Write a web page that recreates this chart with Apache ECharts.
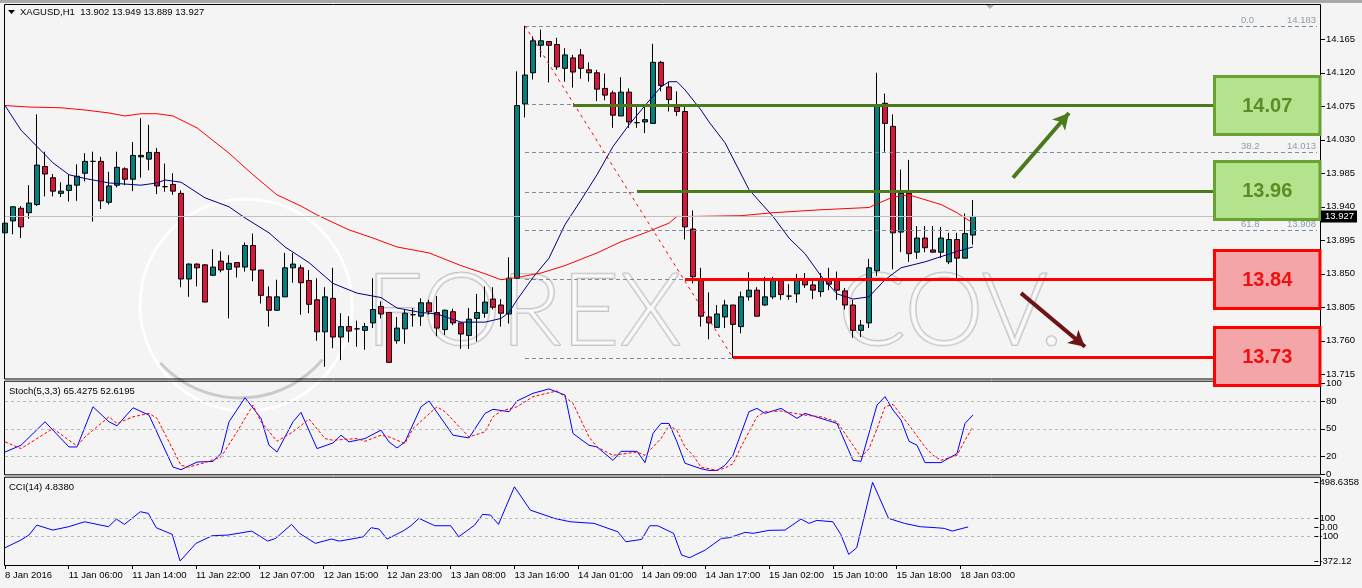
<!DOCTYPE html>
<html>
<head>
<meta charset="utf-8">
<script src="https://cdn.jsdelivr.net/npm/echarts@6/dist/echarts.min.js"></script>
<style>
html, body { margin: 0; padding: 0; background: #f4f4f4; }
#chart { width: 1362px; height: 588px; }
</style>
</head>
<body>
<div id="chart"></div>
<script>
// time axis: one label every 8 hourly bars, 165 bar slots on screen
var tickLabels = ['8 Jan 2016', '11 Jan 06:00', '11 Jan 14:00', '11 Jan 22:00', '12 Jan 07:00', '12 Jan 15:00',
  '12 Jan 23:00', '13 Jan 08:00', '13 Jan 16:00', '14 Jan 01:00', '14 Jan 09:00', '14 Jan 17:00',
  '15 Jan 02:00', '15 Jan 10:00', '15 Jan 18:00', '18 Jan 03:00'];
var slotCount = 165;

// XAGUSD H1 candles
var opens = [13.905,13.921,13.938,13.932,13.943,13.994,13.979,13.958,13.962,13.969,13.985,14.001,14.001,13.946,13.969,13.991,13.977,14.007,14.004,14.013,
  13.967,13.970,13.958,13.843,13.863,13.862,13.848,13.867,13.856,13.865,13.859,13.888,13.855,13.819,13.801,13.819,13.858,13.858,13.841,13.815,
  13.772,13.817,13.765,13.779,13.776,13.774,13.784,13.806,13.798,13.760,13.776,13.795,13.793,13.811,13.798,13.775,13.799,13.784,13.767,13.790,
  13.797,13.816,13.808,13.796,13.844,14.078,14.120,14.157,14.162,14.158,14.126,14.140,14.144,14.124,14.120,14.099,14.093,14.062,14.094,14.053,
  14.054,14.052,14.134,14.101,14.074,14.068,13.910,13.842,13.792,13.778,13.792,13.808,13.779,13.819,13.828,13.808,13.819,13.841,13.820,13.823,
  13.841,13.835,13.826,13.841,13.841,13.827,13.808,13.774,13.784,13.854,14.079,14.048,13.906,13.958,13.879,13.898,13.882,13.879,13.866,13.896,
  13.871,13.902];
var closes = [13.918,13.940,13.913,13.945,13.996,13.984,13.961,13.961,13.969,13.981,14.001,14.001,13.948,13.968,13.993,13.977,14.009,14.009,14.013,13.968,
  13.967,13.961,13.843,13.863,13.858,13.812,13.859,13.855,13.864,13.859,13.888,13.855,13.821,13.801,13.819,13.858,13.863,13.838,13.809,13.772,
  13.819,13.765,13.779,13.773,13.776,13.779,13.802,13.796,13.731,13.777,13.797,13.795,13.811,13.799,13.777,13.801,13.784,13.769,13.789,13.798,
  13.812,13.805,13.797,13.844,14.076,14.117,14.163,14.163,14.157,14.128,14.144,14.121,14.126,14.120,14.098,14.090,14.063,14.094,14.054,14.053,
  14.057,14.134,14.103,14.084,14.068,13.913,13.846,13.793,13.784,13.796,13.808,13.782,13.819,13.828,13.793,13.819,13.841,13.822,13.820,13.841,
  13.835,13.828,13.841,13.836,13.828,13.808,13.774,13.781,13.858,14.077,14.052,13.905,13.958,13.877,13.898,13.885,13.879,13.898,13.896,13.871,
  13.904,13.927];
var lows = [13.897,13.903,13.898,13.924,13.941,13.954,13.954,13.953,13.947,13.948,13.974,13.920,13.937,13.943,13.966,13.969,13.961,13.979,13.989,13.957,
  13.960,13.956,13.832,13.819,13.833,13.812,13.847,13.852,13.790,13.845,13.853,13.840,13.810,13.779,13.800,13.819,13.838,13.795,13.797,13.760,
  13.725,13.750,13.734,13.758,13.752,13.748,13.777,13.790,13.731,13.756,13.756,13.779,13.780,13.795,13.766,13.768,13.781,13.749,13.749,13.759,
  13.791,13.802,13.779,13.783,13.843,14.060,14.111,14.141,14.107,14.124,14.108,14.100,14.112,14.108,14.082,14.083,14.046,14.062,14.046,14.046,
  14.039,14.052,14.095,14.068,14.062,13.896,13.837,13.779,13.762,13.777,13.777,13.737,13.770,13.814,13.793,13.807,13.816,13.815,13.815,13.811,
  13.831,13.816,13.819,13.828,13.815,13.802,13.764,13.765,13.777,13.847,14.014,13.856,13.879,13.866,13.870,13.879,13.879,13.871,13.863,13.843,
  13.871,13.889];
var highs = [13.926,13.941,13.941,13.969,14.064,14.014,13.984,13.973,13.983,13.997,14.012,14.014,14.007,13.987,14.014,13.993,14.027,14.059,14.050,14.019,
  13.998,13.985,13.962,13.864,13.864,13.863,13.883,13.880,13.875,13.865,13.892,13.904,13.855,13.833,13.842,13.878,13.878,13.862,13.855,13.844,
  13.832,13.858,13.797,13.793,13.787,13.784,13.844,13.813,13.798,13.792,13.802,13.804,13.817,13.815,13.820,13.802,13.803,13.784,13.804,13.823,
  13.833,13.832,13.816,13.872,14.122,14.183,14.169,14.178,14.162,14.167,14.153,14.144,14.152,14.134,14.124,14.119,14.096,14.114,14.099,14.075,
  14.074,14.159,14.136,14.108,14.095,14.074,13.935,13.858,13.825,13.808,13.815,13.808,13.826,13.852,13.832,13.846,13.846,13.844,13.836,13.850,
  13.851,13.841,13.851,13.858,13.853,13.831,13.815,13.788,13.870,14.120,14.092,14.064,13.990,14.003,13.914,13.914,13.914,13.913,13.905,13.905,
  13.931,13.949];

// moving averages: [bar, price]
var maBlue = [[0,14.076],[2,14.043],[4,14.021],[6,13.999],[8,13.983],[10,13.978],[13,13.972],[17,13.969],[19,13.972],[20,13.976],[22,13.973],
  [25,13.952],[28,13.940],[30,13.925],[33,13.905],[35,13.886],[38,13.865],[41,13.837],[44,13.824],[47,13.818],[49,13.804],[52,13.798],[54,13.796],
  [57,13.785],[60,13.785],[62,13.790],[63,13.798],[64,13.815],[66,13.845],[68,13.871],[70,13.916],[72,13.949],[74,13.983],[76,14.021],[78,14.050],
  [80,14.076],[82,14.101],[83,14.108],[84,14.108],[85,14.097],[87,14.070],[88,14.054],[90,14.026],[93,13.963],[96,13.927],[98,13.898],[100,13.877],
  [102,13.847],[104,13.823],[106,13.816],[108,13.819],[110,13.842],[112,13.858],[115,13.866],[117,13.873],[119,13.880],[121,13.886]];
var maRed = [[0,14.076],[3,14.074],[7,14.073],[10,14.070],[13,14.066],[15,14.062],[17,14.065],[19,14.065],[21,14.062],[24,14.046],[28,14.012],
  [31,13.983],[34,13.956],[37,13.941],[39,13.929],[43,13.909],[46,13.898],[49,13.886],[53,13.878],[57,13.861],[60,13.850],[62,13.842],[64,13.845],
  [67,13.851],[70,13.861],[74,13.878],[77,13.893],[80,13.905],[83,13.918],[84,13.927],[86,13.927],[92,13.928],[96,13.932],[102,13.936],[108,13.939],
  [109,13.944],[111,13.953],[113,13.956],[117,13.943],[119,13.932],[121,13.918]];

// Stochastic (5,3,3)
var stochMain = [[0,24.4],[2,31.9],[5,57.8],[8,30],[9,30],[11,74.4],[13,57.8],[14,53.3],[16,73.3],[18,65.2],[21,7.8],[22,4.9],[24,13.3],[26,14.1],
  [27,22.7],[28,57.8],[30,84.4],[32,61.6],[33,31.9],[34,24.4],[36,57.8],[37,68.2],[39,28.2],[41,34.4],[42,43],[43,35.6],[45,39.3],[47,48.6],[48,35.6],
  [49,28.9],[50,35.6],[52,74.4],[53,80.8],[56,43],[58,40],[60,67.1],[61,71.6],[63,68.9],[64,80.8],[66,89.3],[68,94.1],[70,87.4],[71,44.9],[73,31.9],
  [74,30],[76,15.2],[77,25.2],[79,25.2],[80,12.7],[81,44.9],[82,56],[83,56],[84,35.6],[85,12],[87,6],[88,4.1],[89,4.1],[90,9.7],[91,20.8],[93,68.9],
  [94,72.6],[95,67.1],[97,72.6],[99,61.6],[100,67.1],[102,61.6],[104,56],[105,35.6],[106,15.2],[107,14.1],[109,76.3],[110,85.6],[111,70.8],[112,59.7],
  [113,36.3],[114,31.9],[115,12.7],[117,12.7],[119,22.7],[120,56],[121,65.4275]];
var stochSignal = [[0,35.6],[2,28.2],[6,50.4],[8,37.4],[9,31.1],[10,41.1],[13,63.3],[14,56],[16,63.3],[18,67.1],[19,61.6],[22,9.7],[23,7.8],[25,12.7],
  [27,18.9],[29,46.7],[31,76.3],[32,57.8],[34,36.3],[36,46.7],[38,60.8],[40,39.3],[41,37.4],[44,39.3],[45,36.3],[47,43],[48,41.1],[50,33.8],[51,50.4],
  [54,74.4],[55,68.9],[58,41.1],[60,46.7],[61,63.3],[62,69.7],[64,74.4],[66,85.6],[69,91.9],[71,78.2],[73,41.1],[74,30],[76,20.8],[79,24.4],[80,20.8],
  [82,39.3],[83,54.1],[84,48],[85,30],[86,20.8],[87,7.8],[89,4.1],[90,6.7],[91,11.5],[92,30],[94,63.3],[95,68.9],[97,69.7],[100,65.2],[102,63.3],
  [104,57.8],[106,31.9],[107,18.9],[108,28],[109,50],[110,74.4],[111,77],[113,54.1],[115,30],[116,20.8],[117,15.2],[119,20.8],[120,37.4],[121,52.6195]];

// CCI(14)
var cciValues = [[0,-226],[2,-140],[3,-85],[4,25],[6,-30],[8,7],[10,62],[13,7],[14,92],[15,33],[17,173],[18,155],[19,-4],[21,-77],[22,-372.12],
  [24,-177],[26,-93],[28,-85],[31,-41],[33,-152],[34,-122],[36,33],[37,-66],[39,-177],[41,-129],[42,-152],[44,-122],[45,-104],[46,-4],[47,-19],
  [48,-129],[50,-41],[51,18],[52,100],[54,18],[56,18],[57,-104],[59,25],[60,144],[61,136],[62,33],[64,449],[66,191],[69,100],[71,62],[74,44],
  [77,-49],[78,-159],[80,-133],[81,18],[82,18],[84,-66],[85,-306],[86,-336],[88,-250],[90,-122],[91,-115],[93,-55],[94,-66],[96,-33],[98,-30],
  [100,92],[101,44],[102,77],[104,62],[105,-77],[106,-299],[107,-226],[109,498.6358],[111,100],[113,44],[115,7],[117,-4],[118,-11],[119,-41],[121,4.838]];

// axis ticks
var priceTicks = [14.165, 14.120, 14.075, 14.030, 13.985, 13.940, 13.895, 13.850, 13.805, 13.760, 13.715];
var stochTicks = [0, 20, 50, 80, 100];
var cciTicks = [-372.12, -100, 0, 100, 498.6358];
var cciTickText = ['-372.12', '-100', '0.00', '100', '498.6358'];

// fibonacci retracement from bar 65 high to bar 91 low
var fibNames = ['0.0', '23.6', '38.2', '50.0', '61.8', '76.4', '100.0'];
var fibLevels = [14.183, 14.078, 14.013, 13.960, 13.908, 13.842, 13.737];

// support / resistance
var levelText = [14.07, 13.96, 13.84, 13.73];
var levelLines = [14.076, 13.961, 13.842, 13.738];
var levelStart = [71, 79, 85, 91];

var chart = echarts.init(document.getElementById('chart'));
var FONT = '"Liberation Sans", Arial, sans-serif';
var GREEN = '#4a7a1c', RED = '#ff0000';
var frameL = 4.5, frameR = 1320.5;
var panels = [[4, 378.5], [380.7, 474.3], [476.7, 565]];
var boxStart = 151;

var slots = [];
for (var i = 0; i < slotCount; i++) slots.push(String(i));
var candles = opens.map(function (o, i) { return [o, closes[i], lows[i], highs[i]]; });
var last = opens.length - 1;

function isTick(i) { return i % 8 === 0 && i / 8 < tickLabels.length; }

function xAxisFor(g, showLabels) {
  return {
    type: 'category', gridIndex: g, data: slots, boundaryGap: false,
    axisLine: { show: false, onZero: false }, splitLine: { show: false },
    axisTick: { show: showLabels, interval: isTick, length: 4, lineStyle: { color: '#000' } },
    axisLabel: {
      show: showLabels, interval: isTick, align: 'left', margin: 5,
      color: '#000', fontSize: 9.5, fontFamily: FONT,
      formatter: function (v, idx) { return tickLabels[idx / 8] || ''; }
    }
  };
}

function yAxisFor(g, min, max, ticks, fmt) {
  return {
    type: 'value', gridIndex: g, position: 'right', offset: 4, min: min, max: max,
    axisLine: { show: false }, splitLine: { show: false },
    axisTick: { show: true, length: 4, customValues: ticks, lineStyle: { color: '#000' } },
    axisLabel: { customValues: ticks, formatter: fmt, margin: 5, color: '#000', fontSize: 9.5, fontFamily: FONT }
  };
}

function hline(v) {
  return { yAxis: v };
}

var annot = [];
// bid line
annot.push([{ coord: [0, closes[last]], lineStyle: { color: '#c0c0c0', width: 1, type: 'solid' } }, { coord: [slotCount - 1, closes[last]] }]);
// fibonacci levels
fibLevels.forEach(function (v, k) {
  annot.push([{
    coord: [65, v], lineStyle: { color: '#7d8ca3', width: 1, type: [4, 3] },
    label: {
      show: true, position: 'insideEndTop', distance: 1,
      formatter: '{a|' + fibNames[k] + '}{b|' + v.toFixed(3) + '}',
      rich: {
        a: { width: 46, align: 'left', color: '#8e9bb0', fontSize: 9.5, fontFamily: FONT },
        b: { align: 'right', color: '#8e9bb0', fontSize: 9.5, fontFamily: FONT }
      }
    }
  }, { coord: [slotCount - 1, v] }]);
});
// fib trend line
annot.push([{ coord: [65, fibLevels[0]], lineStyle: { color: '#ff0000', width: 1, type: [3, 4] } }, { coord: [91, fibLevels[6]] }]);
// support / resistance lines
levelLines.forEach(function (v, k) {
  annot.push([{ coord: [levelStart[k], v], lineStyle: { color: k < 2 ? GREEN : RED, width: 3, type: 'solid' } }, { coord: [boxStart, v] }]);
});
// arrows
annot.push([{ coord: [126, 13.979], lineStyle: { color: '#4a7a1c', width: 4, type: 'solid' } }, { coord: [133, 14.066], symbol: 'arrow', symbolSize: [13, 16] }]);
annot.push([{ coord: [127, 13.824], lineStyle: { color: '#6e1414', width: 4, type: 'solid' } }, { coord: [135, 13.752], symbol: 'arrow', symbolSize: [13, 16] }]);

var option = {
  animation: false,
  backgroundColor: '#f4f4f4',
  grid: [
    { left: 5, right: 45, top: panels[0][0], height: panels[0][1] - panels[0][0] },
    { left: 5, right: 45, top: panels[1][0], height: panels[1][1] - panels[1][0] },
    { left: 5, right: 45, top: panels[2][0], height: panels[2][1] - panels[2][0] }
  ],
  xAxis: [xAxisFor(0, false), xAxisFor(1, false), xAxisFor(2, true)],
  yAxis: [
    yAxisFor(0, 13.7093, 14.2124, priceTicks, function (v) { return v.toFixed(3); }),
    yAxisFor(1, -0.2, 103.2, stochTicks, function (v) { return String(v); }),
    yAxisFor(2, -416.4, 560.6, cciTicks, function (v) {
      var k = cciTicks.indexOf(v);
      return k >= 0 ? cciTickText[k] : '';
    })
  ],
  series: [
    {
      type: 'candlestick', xAxisIndex: 0, yAxisIndex: 0, data: candles, barWidth: 5, z: 3,
      itemStyle: { color: '#008080', color0: '#dc143c', borderColor: '#000', borderColor0: '#000', borderColorDoji: '#000', borderWidth: 1 }
    },
    {
      type: 'line', xAxisIndex: 0, yAxisIndex: 0, data: [], z: 2, silent: true,
      markLine: { silent: true, symbol: 'none', label: { show: false }, emphasis: { disabled: true }, data: annot }
    },
    {
      type: 'line', xAxisIndex: 0, yAxisIndex: 0, data: maBlue, showSymbol: false, z: 4,
      lineStyle: { color: '#000080', width: 1 }
    },
    {
      type: 'line', xAxisIndex: 0, yAxisIndex: 0, data: maRed, showSymbol: false, z: 4,
      lineStyle: { color: '#ff0000', width: 1 }
    },
    {
      type: 'line', xAxisIndex: 1, yAxisIndex: 1, data: stochMain, showSymbol: false,
      lineStyle: { color: '#0000ff', width: 1 },
      markLine: {
        silent: true, symbol: 'none', label: { show: false },
        lineStyle: { color: '#b8b8b8', type: [3, 3], width: 1 },
        data: [hline(20), hline(50), hline(80)]
      }
    },
    {
      type: 'line', xAxisIndex: 1, yAxisIndex: 1, data: stochSignal, showSymbol: false,
      lineStyle: { color: '#ff0000', width: 1, type: [3, 2] }
    },
    {
      type: 'line', xAxisIndex: 2, yAxisIndex: 2, data: cciValues, showSymbol: false,
      lineStyle: { color: '#0000ff', width: 1 },
      markLine: {
        silent: true, symbol: 'none', label: { show: false },
        lineStyle: { color: '#b8b8b8', type: [3, 3], width: 1 },
        data: [hline(100), hline(-100)]
      }
    }
  ]
};
chart.setOption(option);

// overlays placed from data values
var g = [];

// faint site watermark
var wm = { fill: 'rgba(255,255,255,0.55)', stroke: 'rgba(140,140,140,0.45)', lineWidth: 2 };
g.push({ type: 'circle', z: 1, silent: true, shape: { cx: 246, cy: 305, r: 106 }, style: { fill: 'none', stroke: 'rgba(255,255,255,0.9)', lineWidth: 3 } });
g.push({ type: 'arc', z: 1, silent: true, shape: { cx: 240, cy: 290, r: 108, startAngle: 0.7, endAngle: 2.4 }, style: { fill: 'none', stroke: 'rgba(150,150,150,0.45)', lineWidth: 3 } });
g.push({ type: 'text', z: 1, silent: true, x: 366, y: 313, style: Object.assign({ text: 'FOREX', font: '300 100px Lato, sans-serif', verticalAlign: 'middle' }, wm) });
g.push({ type: 'text', z: 1, silent: true, x: 838, y: 313, style: Object.assign({ text: 'COV.', font: '300 100px Lato, sans-serif', verticalAlign: 'middle' }, wm) });

panels.forEach(function (p) {
  g.push({ type: 'rect', z: 40, silent: true, shape: { x: frameL, y: p[0] + 0.5, width: frameR - frameL, height: p[1] - p[0] },
    style: { fill: 'none', stroke: '#000', lineWidth: 1 } });
});
g.push({ type: 'rect', z: 40, shape: { x: 0, y: 0, width: 1362, height: 3 }, style: { fill: '#a8a8a8' } });
g.push({ type: 'polygon', z: 41, shape: { points: [[986, 5], [994, 5], [990, 9]] }, style: { fill: '#b0b0b0' } });

levelLines.forEach(function (v, k) {
  var p = chart.convertToPixel({ xAxisIndex: 0, yAxisIndex: 0 }, [boxStart, v]);
  var up = k < 2;
  var x0 = Math.round(p[0]) + 1.5;
  g.push({ type: 'rect', z: 50, shape: { x: x0, y: Math.round(p[1]) - 29.5, width: 1320 - x0, height: 58 },
    style: { fill: up ? '#b4e38d' : '#f3a5a8', stroke: up ? '#6aa232' : '#ff0000', lineWidth: 3 } });
  g.push({ type: 'text', z: 51, x: (x0 + 1320) / 2, y: Math.round(p[1]),
    style: { text: levelText[k].toFixed(2), font: 'bold 20px ' + FONT, fill: up ? '#5a8c28' : '#f01010', align: 'center', verticalAlign: 'middle' } });
});

var bid = chart.convertToPixel({ xAxisIndex: 0, yAxisIndex: 0 }, [0, closes[last]]);
g.push({ type: 'rect', z: 52, shape: { x: 1321, y: bid[1] - 6, width: 36, height: 12 }, style: { fill: '#000' } });
g.push({ type: 'text', z: 53, x: 1325, y: bid[1], style: { text: closes[last].toFixed(3), font: '9.5px ' + FONT, fill: '#fff', verticalAlign: 'middle' } });

// indicator captions
g.push({ type: 'polygon', z: 41, shape: { points: [[8, 10], [15, 10], [11.5, 14]] }, style: { fill: '#000' } });
g.push({ type: 'text', z: 41, x: 20, y: 12, style: {
  text: 'XAGUSD,H1  ' + [opens[last], highs[last], lows[last], closes[last]].map(function (v) { return v.toFixed(3); }).join(' '),
  font: '9.5px ' + FONT, fill: '#000', verticalAlign: 'middle' } });
g.push({ type: 'text', z: 41, x: 9, y: 391, style: {
  text: 'Stoch(5,3,3) ' + stochMain[stochMain.length - 1][1].toFixed(4) + ' ' + stochSignal[stochSignal.length - 1][1].toFixed(4),
  font: '9.5px ' + FONT, fill: '#000', verticalAlign: 'middle' } });
g.push({ type: 'text', z: 41, x: 9, y: 487, style: {
  text: 'CCI(14) ' + cciValues[cciValues.length - 1][1].toFixed(4),
  font: '9.5px ' + FONT, fill: '#000', verticalAlign: 'middle' } });

chart.setOption({ graphic: g });
</script>
</body>
</html>
